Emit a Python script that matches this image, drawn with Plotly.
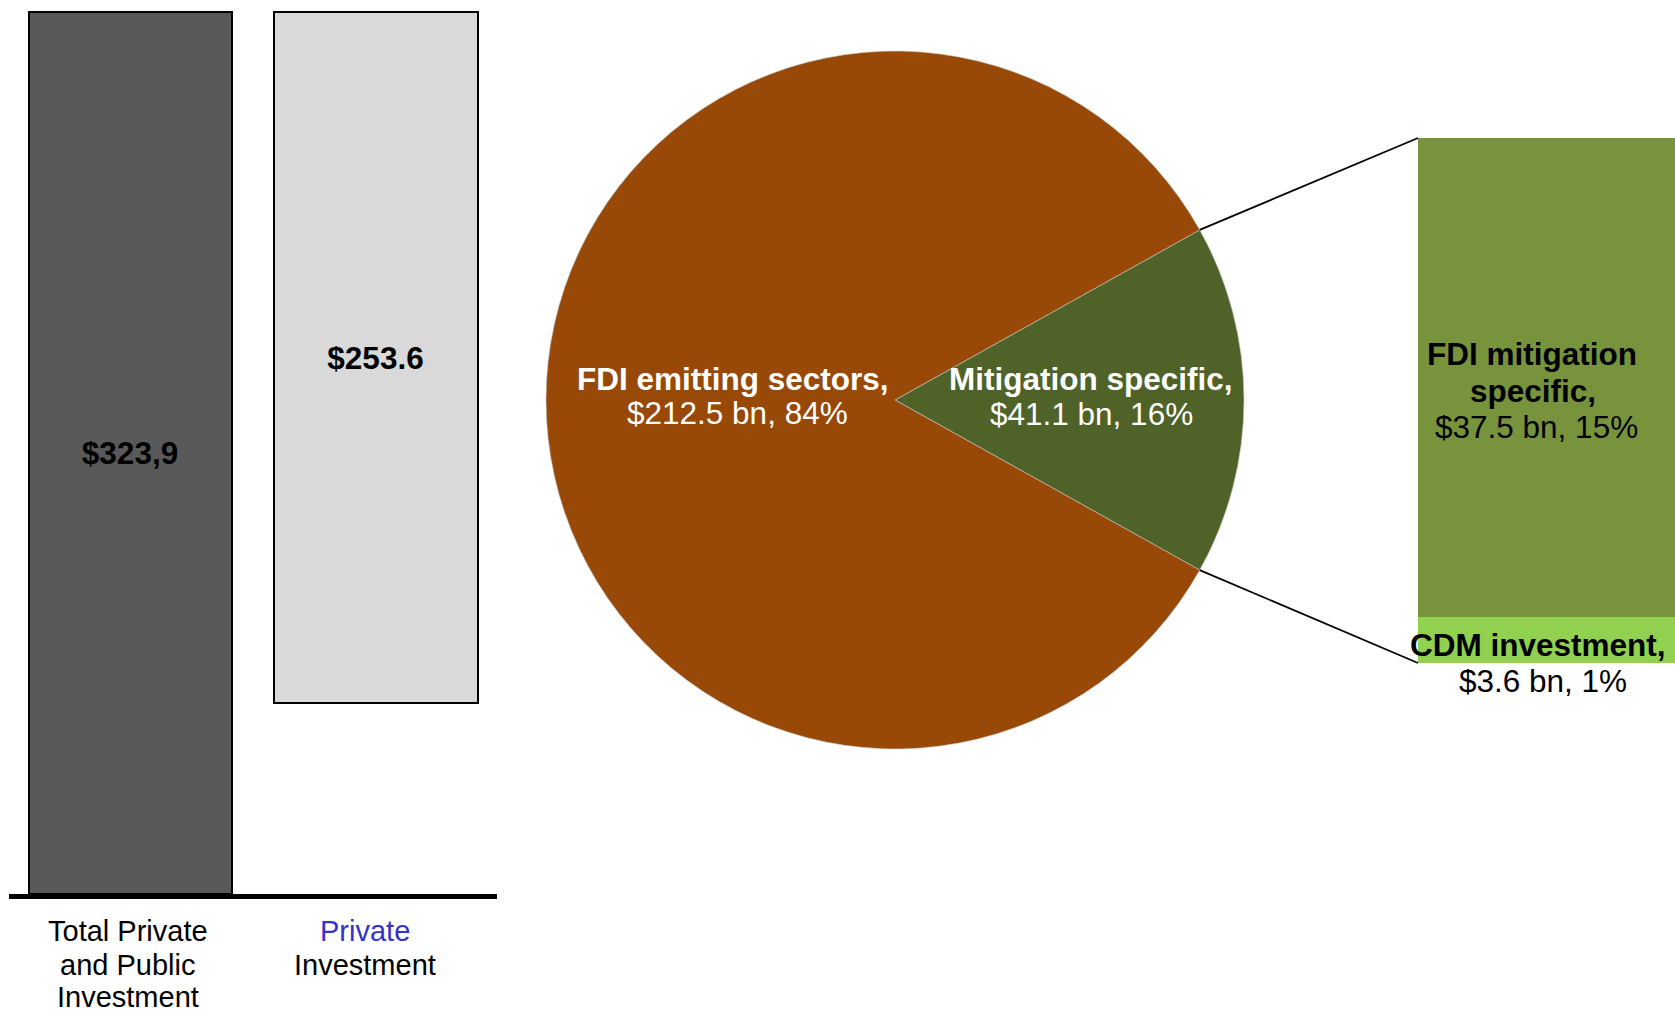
import math
import plotly.graph_objects as go

W, H = 1675, 1015
FONT = "Liberation Sans, Arial, sans-serif"

# ---------------- data ----------------
bar_categories = [["Total Private", "and Public", "Investment"],
                  ["<span style='color:#3333CC'>Private</span>", "Investment"]]
bar_values = [323.9, 253.6]
bar_labels = ["$323,9", "$253.6"]

pie_names = ["Mitigation specific,", "FDI emitting sectors,"]
pie_values = [41.1, 212.5]

split_names = [["CDM investment,"], ["FDI mitigation", "specific,"]]
split_values = [3.6, 37.5]

# ---------------- geometry (pixels) ----------------
PCX, PCY, PR = 895.0, 400.0, 349.0          # pie centre / radius
BAR_AXIS_Y, BAR_TOP_Y = 894.0, 6.0          # left bar plot area
RB_LEFT, RB_TOP, RB_BOTTOM = 1418.0, 138.0, 663.0   # right stacked bar
BIG = 31.5


def px(x, y):
    return x / W, 1 - y / H


fig = go.Figure()

# ---- left bars (total and private, private drawn floating like a waterfall) ----
total, private = bar_values
fig.add_trace(go.Bar(
    x=[0, 1], y=bar_values, base=[0, total - private], width=0.83,
    marker=dict(color=["#595959", "#D9D9D9"], line=dict(color="black", width=2)),
    text=bar_labels, textposition="inside", insidetextanchor="middle", textangle=0,
    insidetextfont=dict(family=FONT, size=BIG, color="black", weight="bold"),
    xaxis="x", yaxis="y", showlegend=False, hoverinfo="skip"))

# ---- pie ----
pie_total = sum(pie_values)
share = pie_values[0] / pie_total
half_angle = 180.0 * share
fig.add_trace(go.Pie(
    values=pie_values, labels=pie_names, sort=False, direction="clockwise",
    rotation=90 - half_angle, textinfo="none",
    marker=dict(colors=["#4F6228", "#984807"], line=dict(color="#C8C8C8", width=0.6)),
    domain=dict(x=[(PCX - PR) / W, (PCX + PR) / W],
                y=[1 - (PCY + PR) / H, 1 - (PCY - PR) / H]),
    showlegend=False, hoverinfo="skip"))

# ---- right stacked bar ----
for val, col in zip(split_values, ["#92D050", "#77933C"]):
    fig.add_trace(go.Bar(
        x=[0], y=[val], width=1.0, marker=dict(color=col, line=dict(width=0)),
        xaxis="x2", yaxis="y2", showlegend=False, hoverinfo="skip"))

# ---- connector lines from pie slice edges to stacked bar ----
th = math.radians(half_angle)
shapes = []
for sgn, ybar in [(1, RB_TOP), (-1, RB_BOTTOM)]:
    x0, y0 = px(PCX + PR * math.cos(th), PCY - sgn * PR * math.sin(th))
    x1, y1 = px(RB_LEFT, ybar)
    shapes.append(dict(type="line", xref="paper", yref="paper",
                       x0=x0, y0=y0, x1=x1, y1=y1,
                       line=dict(color="black", width=1.8)))

# ---- labels ----
def pct(v):
    return round(v / pie_total * 100)

ann = []
def add(text, x, y, color, bold=False, size=BIG):
    xp, yp = px(x, y)
    ann.append(dict(text=(f"<b>{text}</b>" if bold else text), x=xp, y=yp,
                    xref="paper", yref="paper", showarrow=False,
                    xanchor="center", yanchor="middle",
                    font=dict(family=FONT, size=size, color=color)))

# category labels under the left bars (one annotation per line)
cat_shift = [-2.5, -10.0]
cat_y = [931, 965, 997]
for i, lines in enumerate(bar_categories):
    for j, line in enumerate(lines):
        ann.append(dict(text=line, x=i, xref="x", xshift=cat_shift[i],
                        y=px(0, cat_y[j])[1], yref="paper", showarrow=False,
                        xanchor="center", yanchor="middle",
                        font=dict(family=FONT, size=29, color="black")))

# pie labels
add(pie_names[1], 733, 379, "white", bold=True)
add(f"${pie_values[1]} bn, {pct(pie_values[1])}%", 737, 413, "white")
add(pie_names[0], 1091, 379, "white", bold=True)
add(f"${pie_values[0]} bn, {pct(pie_values[0])}%", 1091, 414, "white")

# stacked bar labels
add(split_names[1][0], 1532, 354, "black", bold=True)
add(split_names[1][1], 1533, 391, "black", bold=True)
add(f"${split_values[1]} bn, {pct(split_values[1])}%", 1536, 427, "black")
add(split_names[0][0], 1538, 645, "black", bold=True)
add(f"${split_values[0]} bn, {pct(split_values[0])}%", 1543, 681, "black")

fig.update_layout(
    width=W, height=H, margin=dict(l=0, r=0, t=0, b=0),
    paper_bgcolor="white", plot_bgcolor="rgba(0,0,0,0)",
    barmode="stack", bargap=0,
    font=dict(family=FONT, color="black"),
    xaxis=dict(domain=[8.5 / W, 497 / W], range=[-0.495, 1.495],
               showticklabels=False, ticks="",
               showline=True, linewidth=5, linecolor="black",
               showgrid=False, zeroline=False, fixedrange=True),
    yaxis=dict(domain=[1 - BAR_AXIS_Y / H, 1 - BAR_TOP_Y / H], range=[0, 326],
               visible=False, fixedrange=True),
    xaxis2=dict(domain=[RB_LEFT / W, 1.0], range=[-0.5, 0.5], anchor="y2",
                visible=False, fixedrange=True),
    yaxis2=dict(domain=[1 - RB_BOTTOM / H, 1 - RB_TOP / H],
                range=[0, sum(split_values)], anchor="x2",
                visible=False, fixedrange=True),
    shapes=shapes, annotations=ann,
)

fig.write_html("out.html", config={"displayModeBar": False},
               post_script="document.body.style.margin='0';")
